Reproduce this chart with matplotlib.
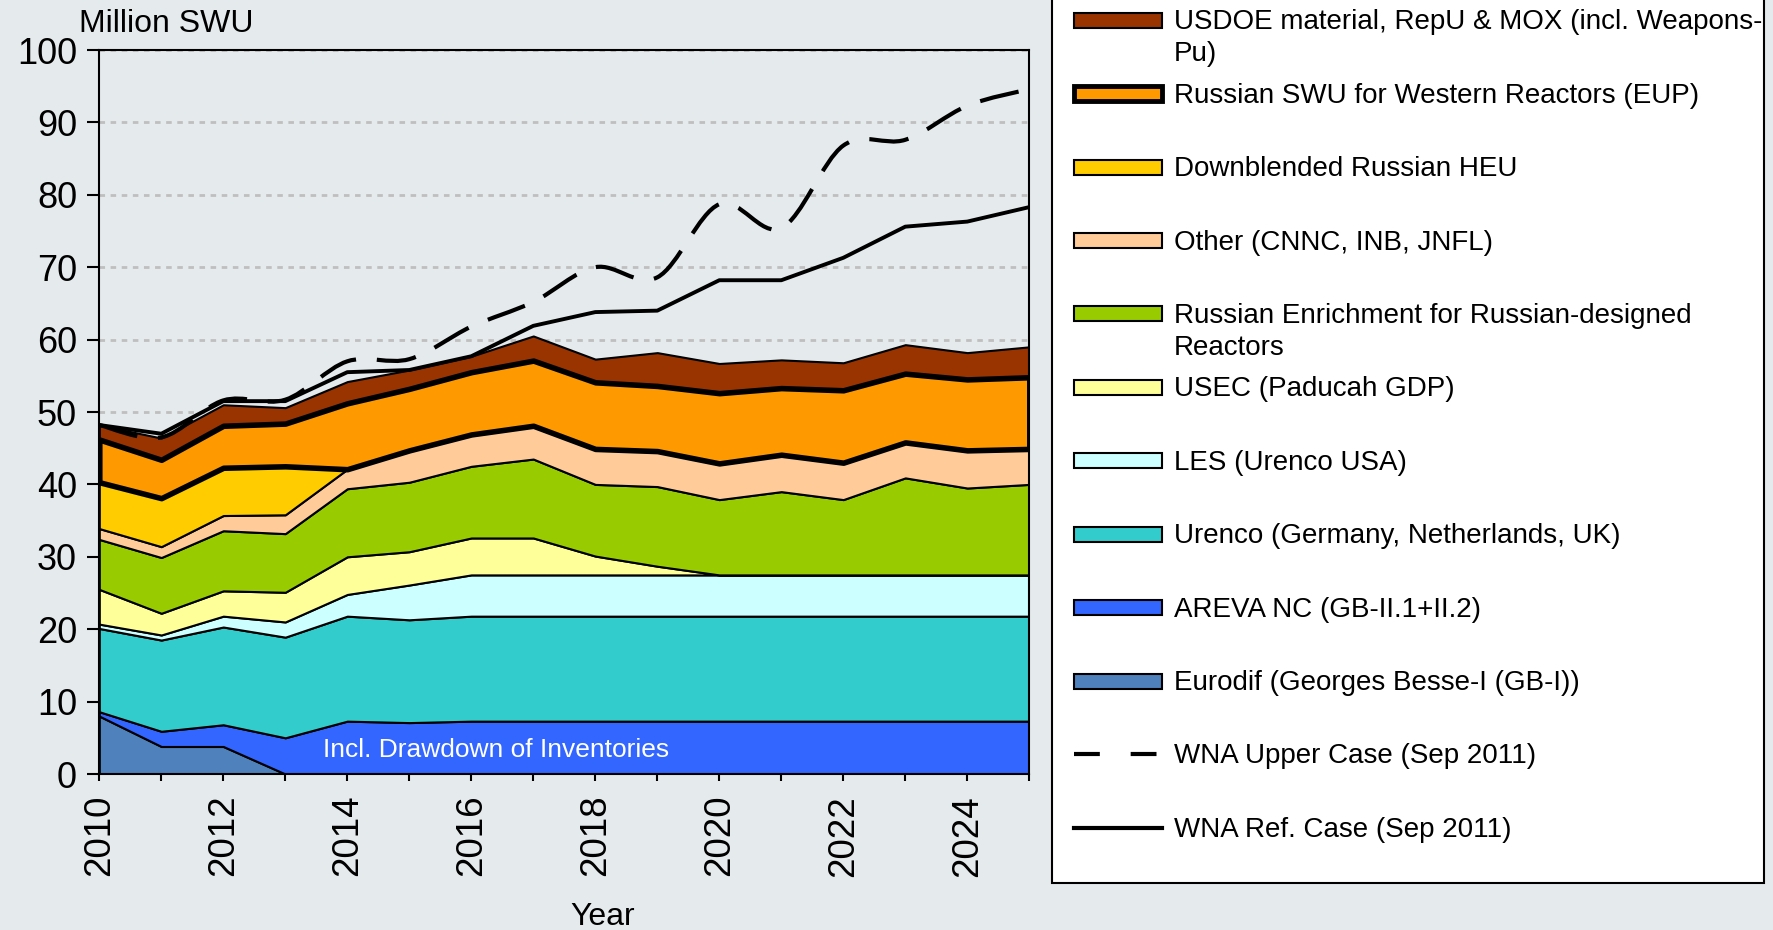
import matplotlib
matplotlib.use('Agg')
import matplotlib.pyplot as plt
from matplotlib.patches import Rectangle, PathPatch
from matplotlib.path import Path
from matplotlib.lines import Line2D

plt.rcParams['font.family'] = ['Liberation Sans', 'DejaVu Sans']

years = list(range(2010, 2026))

# stacked layers, bottom to top (Million SWU)
eurodif = [8.0, 3.8, 3.8, 0, 0, 0, 0, 0, 0, 0, 0, 0, 0, 0, 0, 0]
areva = [0.6, 2.1, 3.0, 5.0, 7.3, 7.1, 7.3, 7.3, 7.3, 7.3, 7.3, 7.3, 7.3, 7.3, 7.3, 7.3]
urenco = [11.5, 12.6, 13.5, 13.9, 14.5, 14.2, 14.5, 14.5, 14.5, 14.5, 14.5, 14.5, 14.5, 14.5, 14.5, 14.5]
les = [0.6, 0.7, 1.5, 2.1, 3.0, 4.8, 5.7, 5.7, 5.7, 5.7, 5.7, 5.7, 5.7, 5.7, 5.7, 5.7]
usec = [4.8, 3.0, 3.5, 4.1, 5.2, 4.6, 5.1, 5.1, 2.6, 1.2, 0, 0, 0, 0, 0, 0]
rus_enr = [6.9, 7.7, 8.3, 8.1, 9.4, 9.6, 9.9, 10.9, 9.9, 11.0, 10.4, 11.5, 10.4, 13.4, 12.0, 12.5]
other = [1.5, 1.5, 2.1, 2.6, 2.7, 4.4, 4.4, 4.6, 4.9, 4.9, 5.0, 5.1, 5.1, 4.9, 5.2, 4.9]
heu = [6.4, 6.7, 6.6, 6.7, 0, 0, 0, 0, 0, 0, 0, 0, 0, 0, 0, 0]
eup = [5.9, 5.3, 5.8, 5.9, 9.1, 8.5, 8.6, 9.0, 9.2, 9.0, 9.7, 9.2, 10.0, 9.5, 9.8, 9.9]
usdoe = [2.0, 3.0, 2.9, 2.2, 3.0, 2.6, 2.2, 3.4, 3.2, 4.6, 4.1, 3.9, 3.8, 4.0, 3.7, 4.2]

ref_case = [48.2, 47.0, 51.5, 51.5, 55.5, 55.8, 57.7, 61.9, 63.8, 64.0, 68.2, 68.2, 71.3, 75.6, 76.3, 78.3]
upper_case = [48.2, 46.5, 51.6, 51.7, 57.0, 57.3, 61.8, 65.2, 70.0, 68.6, 78.7, 75.4, 86.8, 87.6, 92.3, 94.6]

layers = [eurodif, areva, urenco, les, usec, rus_enr, other, heu, eup, usdoe]
layer_labels = [
    'Eurodif (Georges Besse-I (GB-I))',
    'AREVA NC (GB-II.1+II.2)',
    'Urenco (Germany, Netherlands, UK)',
    'LES (Urenco USA)',
    'USEC (Paducah GDP)',
    'Russian Enrichment for Russian-designed\nReactors',
    'Other (CNNC, INB, JNFL)',
    'Downblended Russian HEU',
    'Russian SWU for Western Reactors (EUP)',
    'USDOE material, RepU & MOX (incl. Weapons-\nPu)',
]
layer_colors = ['#4F81BD', '#3366FF', '#33CCCC', '#CCFFFF', '#FFFF99',
                '#99CC00', '#FFCC99', '#FFCC00', '#FF9900', '#993300']
line_labels = ['WNA Upper Case (Sep 2011)', 'WNA Ref. Case (Sep 2011)']

BG = '#E5EBED'
W, H = 1773, 930


def smooth_path(xs, ys):
    """Bezier path through the points, like a smoothed spreadsheet line."""
    pts = list(zip(xs, ys))
    verts = [pts[0]]
    codes = [Path.MOVETO]
    n = len(pts)
    for i in range(n - 1):
        p0 = pts[max(i - 1, 0)]
        p1 = pts[i]
        p2 = pts[i + 1]
        p3 = pts[min(i + 2, n - 1)]
        c1 = (p1[0] + (p2[0] - p0[0]) / 6, p1[1] + (p2[1] - p0[1]) / 6)
        c2 = (p2[0] - (p3[0] - p1[0]) / 6, p2[1] - (p3[1] - p1[1]) / 6)
        verts += [c1, c2, p2]
        codes += [Path.CURVE4] * 3
    return Path(verts, codes)


fig = plt.figure(figsize=(W / 100, H / 100), dpi=100, facecolor=BG)
ax = fig.add_axes([99.3 / W, 1 - 774 / H, 930 / W, 724 / H])
ax.set_facecolor(BG)

polys = ax.stackplot(years, layers, colors=layer_colors, edgecolor='black',
                     linewidth=1.5, zorder=2)
polys[8].set_linewidth(4)
polys[8].set_zorder(3)

ax.plot(years, ref_case, color='black', lw=2.8, zorder=4)
ax.add_patch(PathPatch(smooth_path(years, upper_case), fill=False, edgecolor='black',
                       lw=3, linestyle=(0, (9.5, 5)), zorder=4, capstyle='butt'))

ax.text(2016.4, 3.3, 'Incl. Drawdown of Inventories', color='white', fontsize=19,
        ha='center', va='center', zorder=5)

ax.set_xlim(2010, 2025)
ax.set_ylim(0, 100)
ax.set_yticks(range(0, 101, 10))
ax.set_xticks(years)
ax.set_xticklabels([str(y) if y % 2 == 0 else '' for y in years])
ax.tick_params(axis='x', rotation=90, labelsize=26.5, length=5, width=1.5, pad=10)
ax.tick_params(axis='y', labelsize=26, length=9, width=1.5, pad=7)
ax.yaxis.grid(True, color='#BFBFBF', linestyle=(0, (2, 2)), linewidth=2)
ax.set_axisbelow(True)
for sp in ax.spines.values():
    sp.set_color('black')
    sp.set_linewidth(1.5)

fig.text(79 / W, 1 - 24 / H, 'Million SWU', fontsize=23, ha='left', va='center')
fig.text(603 / W, 1 - 917 / H, 'Year', fontsize=23, ha='center', va='center')

# legend box drawn by hand so wrapped labels keep the row spacing
fig.add_artist(Rectangle((1052 / W, 1 - 883 / H), 712 / W, 883 / H + 0.01,
                         transform=fig.transFigure, facecolor='white',
                         edgecolor='black', lw=1.5))
entries = [(lab, col, i) for i, (lab, col) in enumerate(zip(layer_labels, layer_colors))][::-1]
row = 0
for lab, col, idx in entries:
    yc = 20.4 + row * 73.4
    fig.add_artist(Rectangle((1074 / W, 1 - (yc + 7.5) / H), 88 / W, 15 / H,
                             transform=fig.transFigure, facecolor=col, edgecolor='black',
                             lw=3.5 if idx == 8 else 1.5))
    for k, line in enumerate(lab.split('\n')):
        fig.text(1174 / W, 1 - (yc + 2 + k * 31.7) / H, line, fontsize=20, ha='left', va='center')
    row += 1

for k, lab in enumerate(line_labels):
    yc = 20.4 + (row + k) * 73.4
    ls = (0, (6.2, 7.4)) if k == 0 else '-'
    fig.add_artist(Line2D([1074 / W, 1162 / W], [1 - yc / H, 1 - yc / H],
                          transform=fig.transFigure, color='black', lw=3, linestyle=ls))
    fig.text(1174 / W, 1 - (yc + 2) / H, lab, fontsize=20, ha='left', va='center')

fig.savefig('out.png', dpi=100, facecolor=BG)
